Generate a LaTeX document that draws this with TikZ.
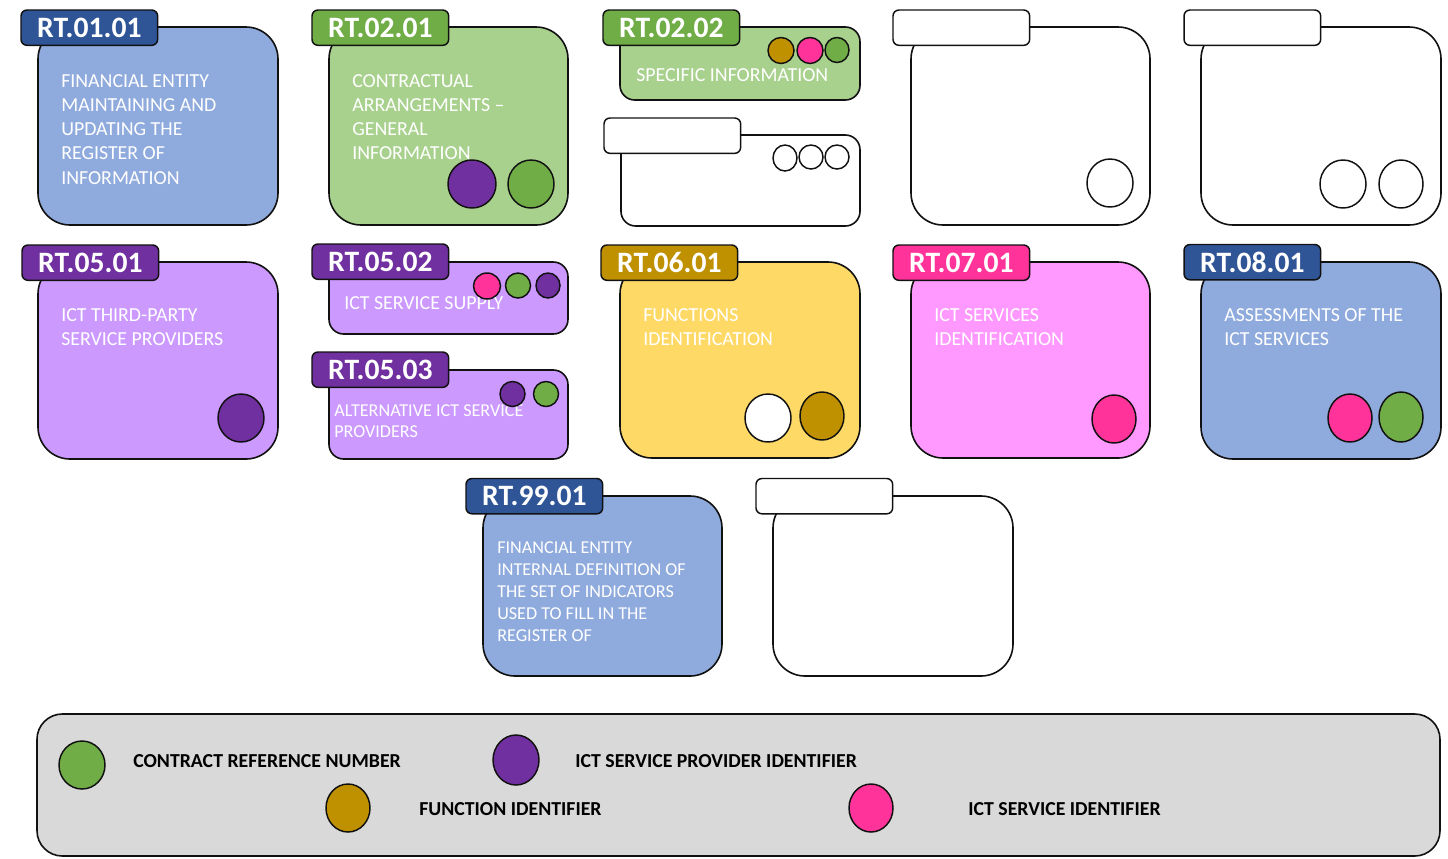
\documentclass[tikz,border=0pt]{standalone}
\usepackage{fontspec}
\setmainfont{Carlito}
\usetikzlibrary{shapes.geometric}
\definecolor{blueD}{HTML}{2F5597}
\definecolor{blueL}{HTML}{8FAADC}
\definecolor{greenD}{HTML}{70AD47}
\definecolor{greenL}{HTML}{A9D18E}
\definecolor{purpD}{HTML}{7030A0}
\definecolor{purpL}{HTML}{CC99FF}
\definecolor{goldD}{HTML}{BF9000}
\definecolor{goldL}{HTML}{FFD966}
\definecolor{pinkD}{HTML}{FF3399}
\definecolor{pinkL}{HTML}{FF99FF}
\definecolor{legendgrey}{HTML}{D9D9D9}
\definecolor{ink}{HTML}{111111}
\tikzset{
  cardbox/.style={draw=ink,line width=1.2pt,anchor=north west,inner sep=0pt,outer sep=0pt},
  bigcard/.style={cardbox,rounded corners=24pt},
  smallcard/.style={cardbox,rounded corners=11pt},
  tabbox/.style={draw=ink,line width=1.1pt,anchor=north west,inner sep=0pt,outer sep=0pt,rounded corners=4.5pt,
    minimum width=102.5pt,minimum height=26.5pt,text=white,font=\fontsize{22.2}{26}\selectfont\bfseries},
  bodytext/.style={anchor=north west,inner sep=0pt,align=left,text=white,font=\fontsize{14.9}{18.2}\selectfont},
  smalltext/.style={anchor=north west,inner sep=0pt,align=left,text=white,font=\fontsize{13.6}{16.4}\selectfont},
  dot/.style={ellipse,draw=ink,line width=1.1pt,inner sep=0pt,outer sep=0pt},
  legendtext/.style={anchor=west,inner sep=0pt,text=black,font=\fontsize{14.85}{17}\selectfont\bfseries},
}
% id, x, y, w, h, card style, fill, tab x, tab y, tab fill, label
\newcommand{\cardwithtab}[9]{%
  \node[#6,fill=#7,minimum width=#4*0.75pt,minimum height=#5*0.75pt] (#1) at (#2,#3) {};
  \node[tabbox,fill=#9] (#1tab) at (#8) {\raisebox{-0.75pt}{\cardlabel}};
}
\newcommand{\cardlabel}{}
% id, cx, cy, w, h, fill
\newcommand{\dotat}[6]{%
  \node[dot,fill=#6,minimum width=#4*0.75pt,minimum height=#5*0.75pt] (#1) at (#2,#3) {};
}
\begin{document}
\begin{tikzpicture}[x=0.75pt,y=-0.75pt]
\useasboundingbox (0,0) rectangle (1448,858);

% row 1
\renewcommand{\cardlabel}{RT.01.01}
\cardwithtab{a}{38}{27}{240}{198}{bigcard}{blueL}{21,10}{blueD}
\node[bodytext] (atext) at (61,68) [yshift=-4.5pt] {FINANCIAL ENTITY\\MAINTAINING AND\\UPDATING THE\\REGISTER OF\\INFORMATION};

\renewcommand{\cardlabel}{RT.02.01}
\cardwithtab{b}{329}{27}{239}{198}{bigcard}{greenL}{312,10}{greenD}
\node[bodytext] (btext) at (352,68) [yshift=-4.5pt] {CONTRACTUAL\\ARRANGEMENTS –\\GENERAL\\INFORMATION};
\dotat{b1}{472}{184}{48}{48}{purpD}
\dotat{b2}{531}{184}{46}{48}{greenD}

\renewcommand{\cardlabel}{RT.02.02}
\cardwithtab{c}{620}{27}{240}{73}{smallcard}{greenL}{603,10}{greenD}
\node[bodytext] (ctext) at (636,62) [yshift=-4.5pt] {SPECIFIC INFORMATION};
\dotat{c1}{781}{50.5}{26}{26}{goldD}
\dotat{c2}{810}{50.5}{26}{26}{pinkD}
\dotat{c3}{837}{50}{24}{25}{greenD}

\renewcommand{\cardlabel}{}
\cardwithtab{d}{621}{135}{239}{91}{smallcard}{white}{604,118}{white}
\dotat{d1}{785}{158}{24}{26}{white}
\dotat{d2}{811}{157}{24}{24}{white}
\dotat{d3}{837}{157}{24}{24}{white}

\cardwithtab{e}{911}{27}{239}{198}{bigcard}{white}{893,10}{white}
\dotat{e1}{1110}{183}{46}{48}{white}

\cardwithtab{f}{1201}{27}{240}{198}{bigcard}{white}{1184,10}{white}
\dotat{f1}{1343}{184}{46}{48}{white}
\dotat{f2}{1401}{184}{44}{48}{white}

% row 2
\renewcommand{\cardlabel}{RT.05.01}
\cardwithtab{g}{38}{262}{240}{197}{bigcard}{purpL}{22,245}{purpD}
\node[bodytext] (gtext) at (61,302) [yshift=-4.5pt] {ICT THIRD-PARTY\\SERVICE PROVIDERS};
\dotat{g1}{241}{418}{46}{48}{purpD}

\renewcommand{\cardlabel}{RT.05.02}
\cardwithtab{h}{329}{262}{239}{72}{smallcard}{purpL}{312,244}{purpD}
\node[bodytext] (htext) at (344,290) [yshift=-4.5pt] {ICT SERVICE SUPPLY};
\dotat{h1}{487}{286}{27}{26}{pinkD}
\dotat{h2}{518}{285.5}{25}{25}{greenD}
\dotat{h3}{548}{285.5}{24}{25}{purpD}

\renewcommand{\cardlabel}{RT.05.03}
\cardwithtab{i}{329}{370}{239}{89}{smallcard}{purpL}{312,352}{purpD}
\node[smalltext] (itext) at (334,400) [yshift=-3pt] {ALTERNATIVE ICT SERVICE\\PROVIDERS};
\dotat{i1}{512.5}{394}{25}{25}{purpD}
\dotat{i2}{546}{394}{25}{25}{greenD}

\renewcommand{\cardlabel}{RT.06.01}
\cardwithtab{j}{620}{262}{240}{196}{bigcard}{goldL}{601,245}{goldD}
\node[bodytext] (jtext) at (643,302) [yshift=-4.5pt] {FUNCTIONS\\IDENTIFICATION};
\dotat{j1}{768}{418}{46}{48}{white}
\dotat{j2}{822}{416}{44}{48}{goldD}

\renewcommand{\cardlabel}{RT.07.01}
\cardwithtab{k}{911}{262}{239}{196}{bigcard}{pinkL}{893,245}{pinkD}
\node[bodytext] (ktext) at (934,302) [yshift=-4.5pt] {ICT SERVICES\\IDENTIFICATION};
\dotat{k1}{1114}{419}{44}{48}{pinkD}

\renewcommand{\cardlabel}{RT.08.01}
\cardwithtab{l}{1201}{262}{240}{197}{bigcard}{blueL}{1184,244.5}{blueD}
\node[bodytext] (ltext) at (1224,302) [yshift=-4.5pt] {ASSESSMENTS OF THE\\ICT SERVICES};
\dotat{l1}{1350}{418}{44}{48}{pinkD}
\dotat{l2}{1401}{417}{44}{50}{greenD}

% row 3
\renewcommand{\cardlabel}{RT.99.01}
\cardwithtab{m}{483}{496}{239}{180}{bigcard}{blueL}{466,478.5}{blueD}
\node[smalltext] (mtext) at (497,537) [yshift=-3.6pt] {FINANCIAL ENTITY\\INTERNAL DEFINITION OF\\THE SET OF INDICATORS\\USED TO FILL IN THE\\REGISTER OF};

\renewcommand{\cardlabel}{}
\cardwithtab{n}{773}{496}{240}{180}{bigcard}{white}{756,478.5}{white}

% legend
\node[cardbox,rounded corners=19pt,fill=legendgrey,minimum width=1403*0.75pt,minimum height=142*0.75pt] (legend) at (37,714) {};
\dotat{lg1}{82}{765}{46}{48}{greenD}
\node[legendtext] (lgt1) at (133,761) {CONTRACT REFERENCE NUMBER};
\dotat{lg2}{516}{760}{46}{50}{purpD}
\node[legendtext] (lgt2) at (575,761) {ICT SERVICE PROVIDER IDENTIFIER};
\dotat{lg3}{348}{808}{44}{48}{goldD}
\node[legendtext] (lgt3) at (419,809) {FUNCTION IDENTIFIER};
\dotat{lg4}{871}{808}{44}{48}{pinkD}
\node[legendtext] (lgt4) at (968,809) {ICT SERVICE IDENTIFIER};
\end{tikzpicture}
\end{document}
